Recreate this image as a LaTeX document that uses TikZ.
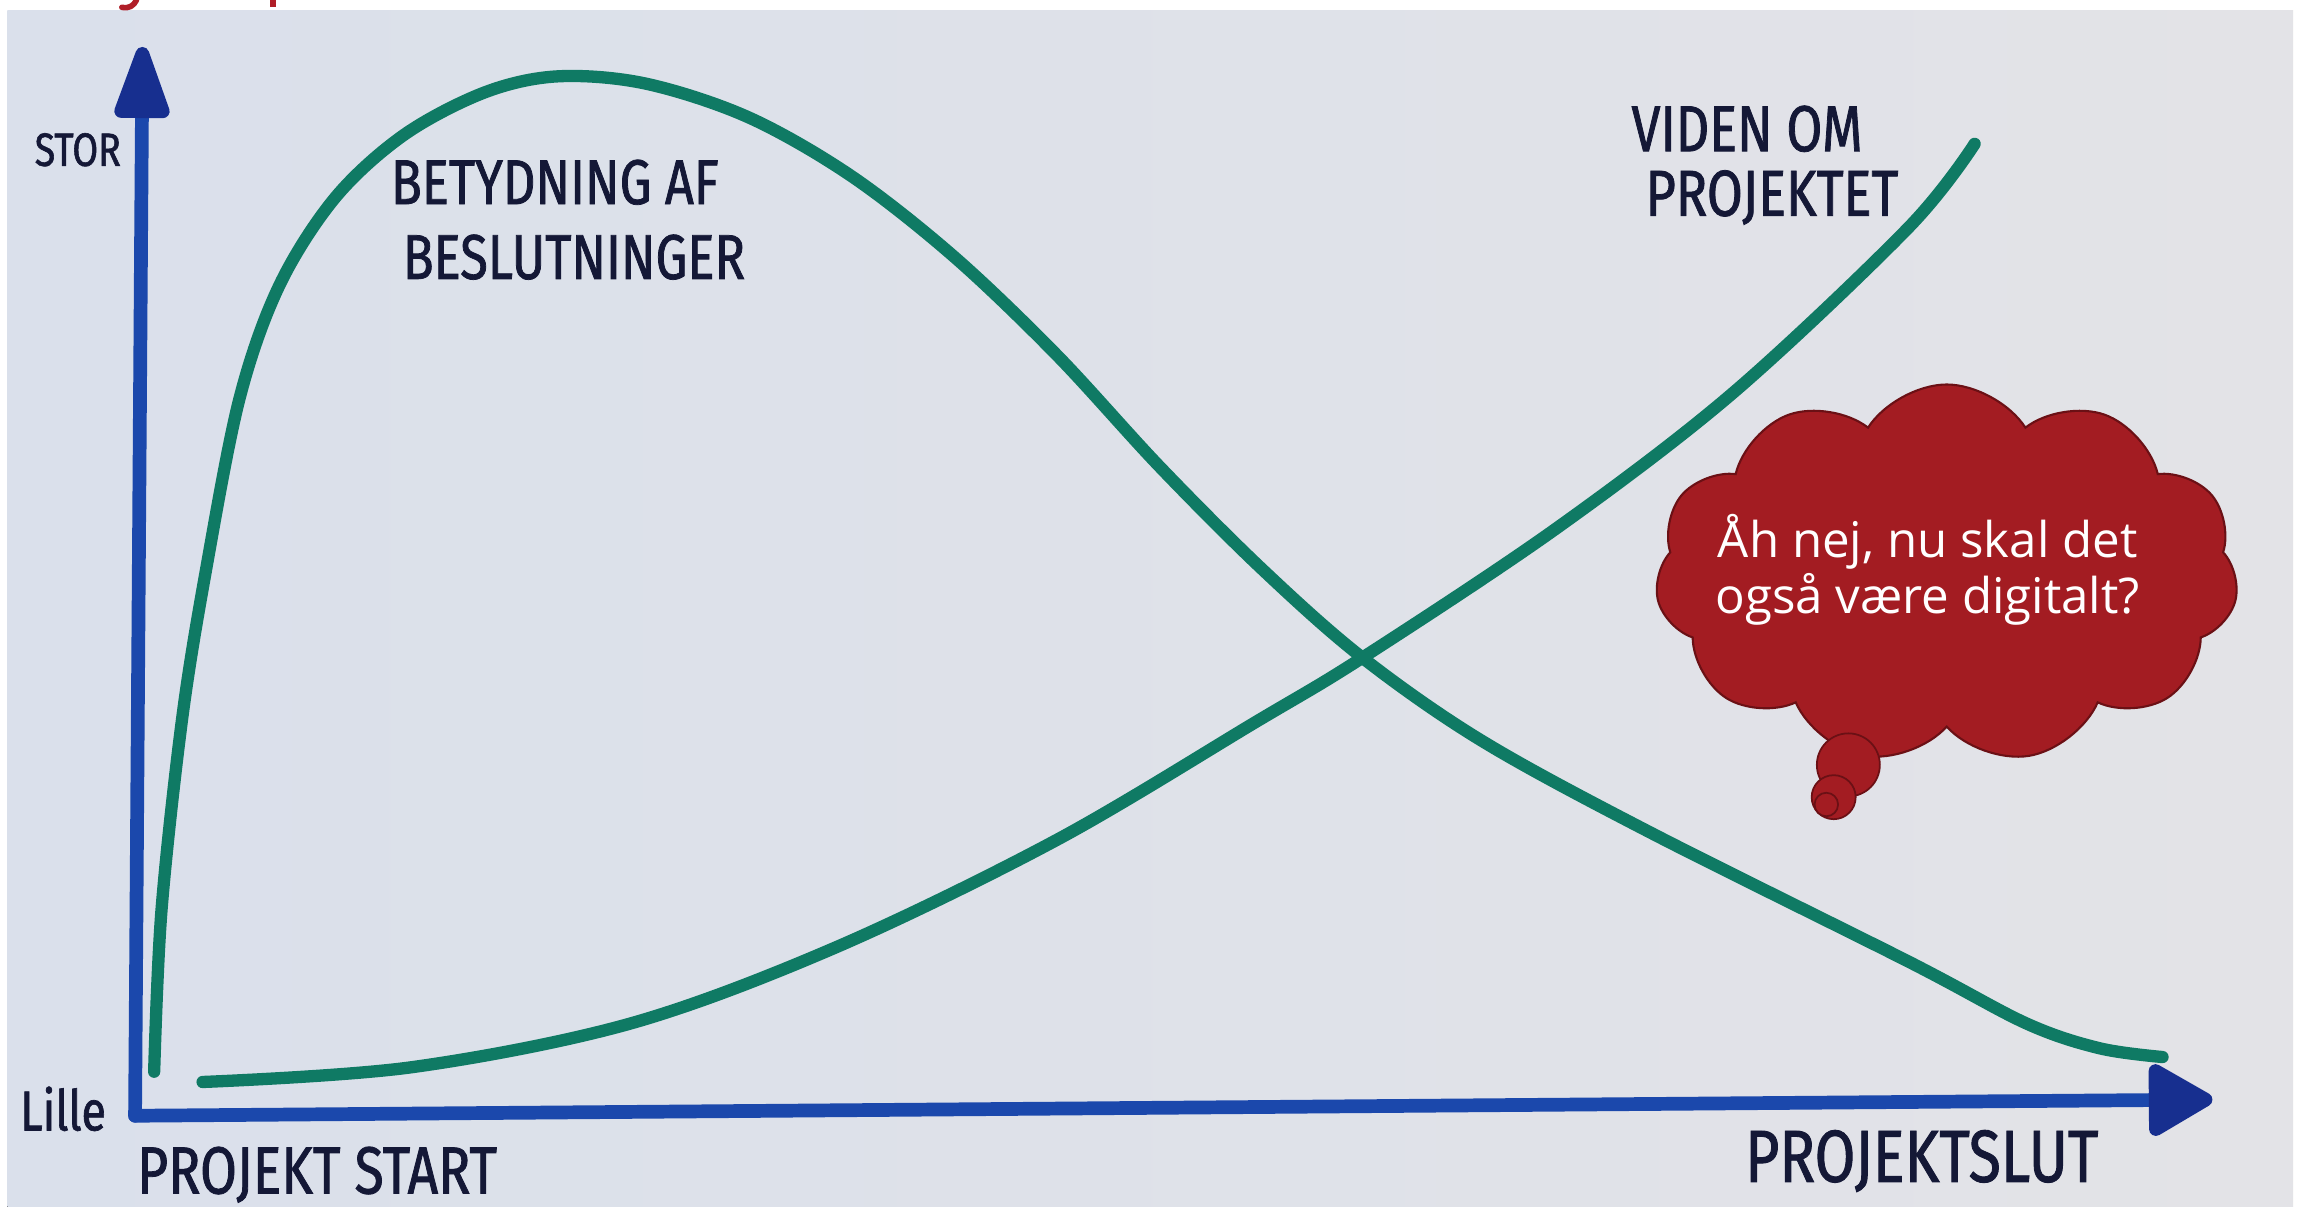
\documentclass[tikz,border=0pt]{standalone}
\usepackage{fontspec}
\usetikzlibrary{arrows.meta,shapes.symbols}
\newfontfamily\handfont[FakeStretch=0.8, FakeBold=1.2]{Fira Sans}
\newfontfamily\bubblefont{Open Sans}
\definecolor{paperleft}{HTML}{DAE0EB}
\definecolor{paperright}{HTML}{E3E3E7}
\definecolor{axisblue}{HTML}{1B48AC}
\definecolor{headblue}{HTML}{172F8F}
\definecolor{curvegreen}{HTML}{0F7A64}
\definecolor{inknavy}{HTML}{141836}
\definecolor{cloudred}{HTML}{A31C22}
\definecolor{cloudedge}{HTML}{6B1015}
\definecolor{titlered}{HTML}{B01E28}

\begin{document}
\begin{tikzpicture}[x=0.01468cm, y=-0.01468cm,
    axisline/.style={draw=axisblue, line width=3.9pt, line cap=round},
    curveline/.style={draw=curvegreen, line width=3.5pt, line cap=round, line join=round},
    hand/.style={text=inknavy, inner sep=0pt, anchor=base, font=\handfont\fontsize{#1}{#1}\selectfont},
    puff/.style={circle, fill=cloudred, draw=cloudedge, line width=0.5pt, inner sep=0pt}]

        \useasboundingbox (0,0) rectangle (1568,822);
        \fill[white] (0,0) rectangle (1568,822);
        \fill[left color=paperleft, right color=paperright] (5,7.5) rectangle (1562,822);

        % cut-off title above the photo
        \draw[titlered, line width=1.6pt, line cap=round] (93,0) .. controls (91,4) and (88,6) .. (83,5);
        \draw[titlered, line width=1.7pt] (186,0) -- (186,5);

        % axes
        \coordinate (origin) at (92,760);
        \coordinate (ytip) at (97,32);
        \coordinate (xtip) at (1507,749);
        \draw[axisline, -{Triangle[round, length=8.6mm, width=5.7mm, color=headblue]}] (origin) -- (ytip);
        \draw[axisline, -{Triangle[round, length=7.1mm, width=7.8mm, color=headblue]}] (origin) -- (xtip);

        % curves
        \draw[curveline] plot[smooth, tension=0.55] coordinates {
          (105,730) (110,620) (124,490) (140,390) (163,272) (190,195) (228,135)
          (275,92) (330,63) (380,52) (440,57) (510,80) (580,120) (650,175)
          (720,242) (790,318) (860,388) (928,448) (1010,505) (1124,567)
          (1300,655) (1380,697) (1430,714) (1473,720)};
        \draw[curveline] plot[smooth, tension=0.55] coordinates {
          (138,737) (280,727) (430,697) (570,645) (720,572) (855,492) (928,448)
          (1060,360) (1180,268) (1300,155) (1345,98)};

        \node[hand=13.3] (stor) at (53,113) {STOR};
        \node[hand=16] (lille) at (43,770) {Lille};
        \node[hand=18] (betyd) at (378,139) {BETYDNING AF};
        \node[hand=18] (beslut) at (391,190) {BESLUTNINGER};
        \node[hand=18.5] (viden) at (1190,103) {VIDEN OM};
        \node[hand=18.5] (projekt) at (1207,147) {PROJEKTET};
        \node[hand=19] (start) at (216,813) {PROJEKT START};
        \node[hand=21] (slut) at (1309,805) {PROJEKTSLUT};

        % thought bubble
        \node[cloud, cloud puffs=11, cloud puff arc=115, aspect=1.55,
              fill=cloudred, draw=cloudedge, line width=0.6pt,
              minimum width=5.83cm, minimum height=3.79cm, inner sep=0pt]
              (cloud) at (1326,391) {};
        \node[text=white, align=center, inner sep=0pt,
              font=\bubblefont\fontsize{14}{16}\selectfont]
              (thought) at (1313,388) {Åh nej, nu skal det\\også være digitalt?};
        \node[puff, minimum size=6.3mm] (puffa) at (1259,521) {};
        \node[puff, minimum size=4.4mm] (puffb) at (1249,543) {};
        \node[puff, minimum size=2.35mm] (puffc) at (1244,548) {};

\end{tikzpicture}
\end{document}
